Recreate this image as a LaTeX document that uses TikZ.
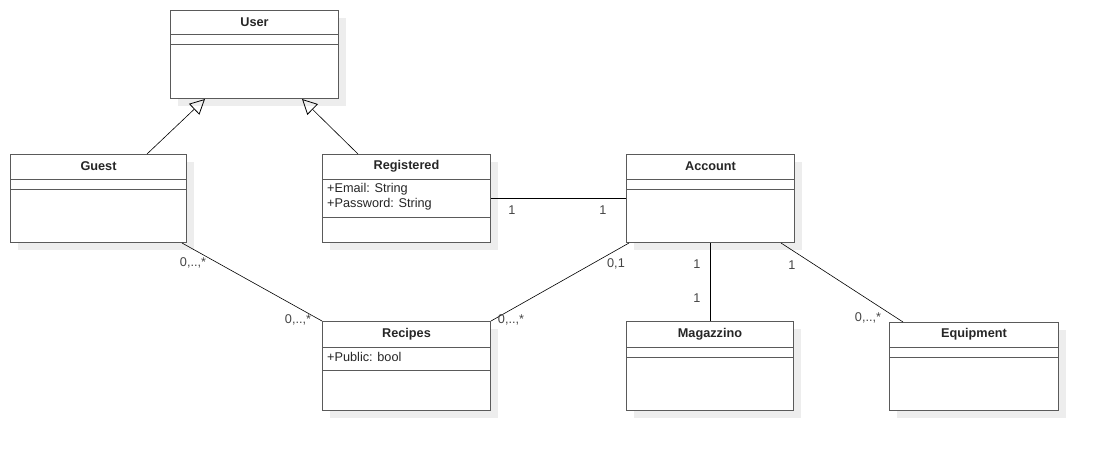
\documentclass[tikz,border=0pt]{standalone}
\usepackage{fontspec}
\setmainfont{Liberation Sans}
\usetikzlibrary{arrows.meta,calc,shadows}
\definecolor{boxgray}{HTML}{5A5A5A}
\definecolor{shadowgray}{HTML}{EDEDED}
\definecolor{labelgray}{HTML}{444444}
\begin{document}
\begin{tikzpicture}[x=1pt,y=-1pt,
  classbox/.style={draw=boxgray, line width=1pt, fill=white, inner sep=0pt, anchor=north west,
    minimum height=88pt,
    drop shadow={shadow xshift=7pt, shadow yshift=-7pt, fill=shadowgray, opacity=1}},
  sepline/.style={draw=boxgray, line width=1pt},
  title/.style={font=\bfseries\fontsize{12.7}{15}\selectfont, text=black!85, inner sep=0pt},
  attr/.style={font=\fontsize{12.7}{15}\selectfont, text=black!85, anchor=west, inner sep=0pt},
  mult/.style={font=\fontsize{12.7}{15}\selectfont, text=labelgray, inner sep=0pt},
  assoc/.style={draw=black, line width=0.6pt},
  gen/.style={draw=black, line width=0.6pt, -{Triangle[open, length=15pt, width=15pt, line width=0.8pt]}}
]
\useasboundingbox (0,0) rectangle (1098,450);

% classes
\node[classbox, minimum width=168pt] (user) at (170,10) {};
\node[classbox, minimum width=176pt] (guest) at (10,154) {};
\node[classbox, minimum width=168pt] (reg) at (322,154) {};
\node[classbox, minimum width=168pt] (acc) at (626,154) {};
\node[classbox, minimum width=168pt, minimum height=89pt] (rec) at (322,321) {};
\node[classbox, minimum width=167pt, minimum height=89pt] (mag) at (626,321) {};
\node[classbox, minimum width=169pt] (equip) at (889,322) {};

% separators
\foreach \n/\a/\b in {user/24/34, guest/25/35, acc/25/35} {
  \draw[sepline] ($(\n.north west)+(0,\a)$) -- ($(\n.north east)+(0,\a)$);
  \draw[sepline] ($(\n.north west)+(0,\b)$) -- ($(\n.north east)+(0,\b)$);
}
\draw[sepline] ($(reg.north west)+(0,25)$) -- ($(reg.north east)+(0,25)$);
\draw[sepline] ($(reg.north west)+(0,63)$) -- ($(reg.north east)+(0,63)$);
\draw[sepline] ($(rec.north west)+(0,26)$) -- ($(rec.north east)+(0,26)$);
\draw[sepline] ($(rec.north west)+(0,49)$) -- ($(rec.north east)+(0,49)$);
\draw[sepline] ($(mag.north west)+(0,26)$) -- ($(mag.north east)+(0,26)$);
\draw[sepline] ($(mag.north west)+(0,36)$) -- ($(mag.north east)+(0,36)$);
\draw[sepline] ($(equip.north west)+(0,25)$) -- ($(equip.north east)+(0,25)$);
\draw[sepline] ($(equip.north west)+(0,35)$) -- ($(equip.north east)+(0,35)$);

% titles
\node[title] (tuser) at ($(user.north)+(0,12.5)$) {User};
\node[title] (tguest) at ($(guest.north)+(0,12.5)$) {Guest};
\node[title] (treg) at ($(reg.north)+(0,12.5)$) {Registered};
\node[title] (tacc) at ($(acc.north)+(0,12.5)$) {Account};
\node[title] (trec) at ($(rec.north)+(0,13)$) {Recipes};
\node[title] (tmag) at ($(mag.north)+(0,13)$) {Magazzino};
\node[title] (tequip) at ($(equip.north)+(0,12.5)$) {Equipment};

% attributes
\node[attr] (aemail) at ($(reg.north west)+(5,35)$) {+Email: String};
\node[attr] (apass) at ($(reg.north west)+(5,50)$) {+Password: String};
\node[attr] (apub) at ($(rec.north west)+(5,36)$) {+Public: bool};

% generalizations
\coordinate (g1) at ($(guest.north west)+(137,0)$);
\coordinate (u1) at ($(user.south west)+(35,0)$);
\draw[gen] (g1) -- (u1);
\coordinate (r1) at ($(reg.north west)+(36,0)$);
\coordinate (u2) at ($(user.south west)+(132,0)$);
\draw[gen] (r1) -- (u2);

% associations
\coordinate (ra) at ($(reg.north east)+(0,44)$);
\coordinate (ar) at ($(acc.north west)+(0,44)$);
\draw[assoc] (ra) -- (ar);
\coordinate (gr) at ($(guest.south west)+(172,0)$);
\draw[assoc] (gr) -- (rec.north west);
\coordinate (ac1) at ($(acc.south west)+(3,0)$);
\draw[assoc] (rec.north east) -- (ac1);
\coordinate (ac2) at ($(acc.south west)+(84,0)$);
\coordinate (mg) at ($(mag.north west)+(84,0)$);
\draw[assoc] (ac2) -- (mg);
\coordinate (ac3) at ($(acc.south west)+(155,0)$);
\coordinate (eq) at ($(equip.north west)+(14,0)$);
\draw[assoc] (ac3) -- (eq);

% multiplicities
\node[mult] (m1) at (512,210) {1};
\node[mult] (m2) at (603,210) {1};
\node[mult] (m3) at (193,263) {0,..,*};
\node[mult] (m4) at (298,320) {0,..,*};
\node[mult] (m5) at (511,320) {0,..,*};
\node[mult] (m6) at (616,264) {0,1};
\node[mult] (m7) at (697,264) {1};
\node[mult] (m8) at (697,298) {1};
\node[mult] (m9) at (792,265) {1};
\node[mult] (m10) at (868,318) {0,..,*};
\end{tikzpicture}
\end{document}
